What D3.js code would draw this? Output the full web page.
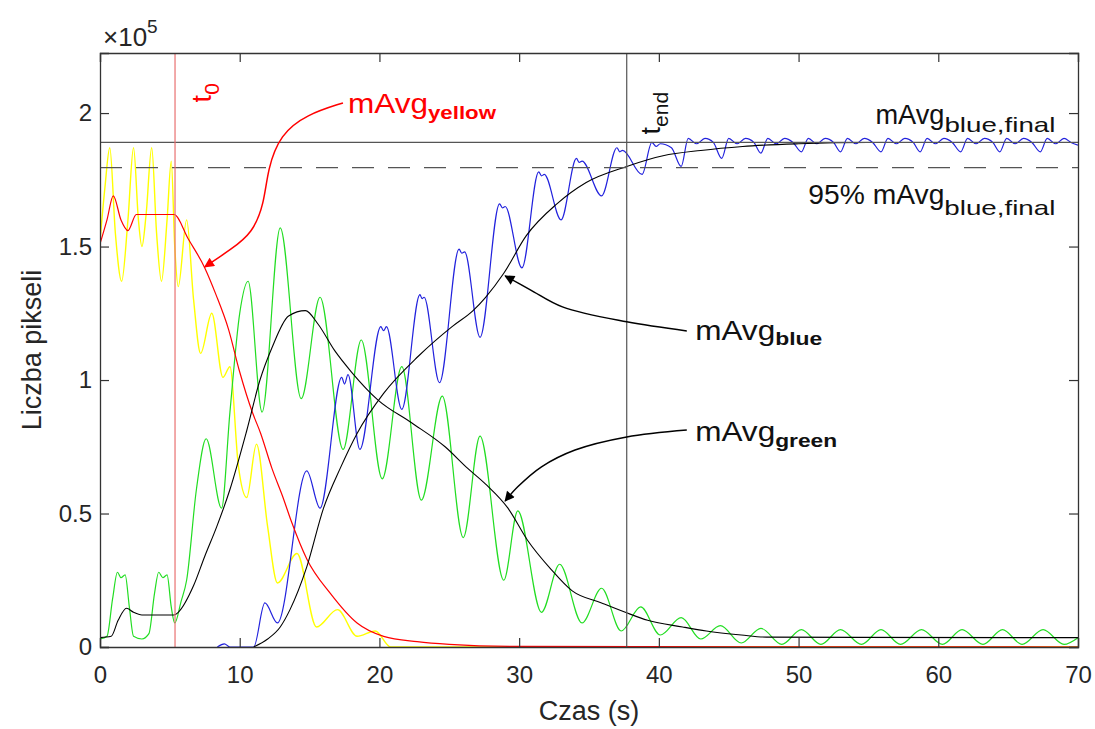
<!DOCTYPE html>
<html>
<head>
<meta charset="utf-8">
<script src="https://cdn.jsdelivr.net/npm/d3@7"></script>
<style>
  body { margin: 0; background: #fff; }
  svg { display: block; }
  text { font-family: "Liberation Sans", Arial, Helvetica, sans-serif; fill: #262626; }
</style>
</head>
<body>
<svg id="chart" width="1095" height="729"></svg>
<script>
// Axis ticks (time in s, pixel count in units of 1e5)
const timeTicks = [0, 10, 20, 30, 40, 50, 60, 70];
const countTicks = [0, 0.5, 1, 1.5, 2];
const countTickLabels = ["0", "0.5", "1", "1.5", "2"];

// Event markers
const t0 = 5.37;
const tEnd = 37.7;
const blueFinal = 1.89;
const blueFinal95 = 1.7955;

// Raw yellow pixel count [t, count/1e5]
const yellowRaw = [
  [0, 1.52], [0.35, 1.72], [0.7, 1.87], [1.1, 1.55], [1.55, 1.37], [2.0, 1.6], [2.4, 1.87],
  [2.75, 1.6], [3.0, 1.50], [3.3, 1.62], [3.7, 1.87], [4.05, 1.55], [4.4, 1.37], [4.8, 1.6],
  [5.1, 1.82], [5.35, 1.5], [5.6, 1.35], [6.2, 1.60], [6.7, 1.3], [7.2, 1.10], [8.0, 1.25],
  [8.8, 1.01], [9.3, 1.05], [9.9, 0.68], [10.5, 0.56], [11.2, 0.76], [12.0, 0.45], [12.7, 0.24],
  [14.1, 0.35], [15.5, 0.075], [17.0, 0.14], [18.4, 0.04], [19.7, 0.06], [20.8, 0.0], [70, 0.0]
];

// Raw green pixel count
const greenRaw = [
  [0, 0.03], [0.5, 0.04], [0.9, 0.18], [1.25, 0.28], [1.5, 0.26], [1.8, 0.27], [2.1, 0.15],
  [2.4, 0.04], [3.0, 0.03], [3.5, 0.05], [3.9, 0.2], [4.2, 0.28], [4.5, 0.26], [4.8, 0.27],
  [5.1, 0.15], [5.35, 0.09], [5.8, 0.17], [6.2, 0.25], [6.9, 0.59], [7.6, 0.78], [8.7, 0.52],
  [9.3, 0.88], [10.0, 1.25], [10.6, 1.37], [11.6, 0.88], [12.9, 1.57], [14.4, 0.93],
  [15.75, 1.31], [17.4, 0.74], [18.7, 1.15], [20.2, 0.63], [21.6, 1.05], [23.0, 0.55],
  [24.5, 0.94], [26.0, 0.41], [27.2, 0.79], [28.9, 0.25], [29.9, 0.51], [31.6, 0.13],
  [32.9, 0.31], [34.5, 0.09], [35.9, 0.22], [37.3, 0.06], [38.7, 0.15], [40.1, 0.045],
  [41.6, 0.11], [43.0, 0.03], [44.4, 0.08], [45.9, 0.015], [47.3, 0.07], [48.8, 0.01],
  [50.2, 0.065], [51.6, 0.01], [53.0, 0.065], [54.5, 0.01], [55.9, 0.065], [57.3, 0.01],
  [58.8, 0.065], [60.3, 0.01], [61.7, 0.065], [63.2, 0.01], [64.6, 0.065], [66.0, 0.01],
  [67.5, 0.065], [69.0, 0.01], [70, 0.035]
];

// Raw blue pixel count
const blueRaw = [
  [8.4, 0.0], [8.9, 0.012], [9.3, 0.0], [11.0, 0.0], [11.8, 0.165], [12.7, 0.09], [14.8, 0.66],
  [15.75, 0.52], [17.3, 1.01], [17.5, 0.985], [17.75, 1.02], [18.6, 0.74], [20.1, 1.2],
  [20.3, 1.185], [20.5, 1.2], [21.6, 0.89], [22.9, 1.32], [23.05, 1.305], [23.2, 1.31],
  [24.3, 0.99], [25.7, 1.49], [25.9, 1.475], [26.1, 1.48], [27.2, 1.16], [28.6, 1.66],
  [28.8, 1.645], [29.0, 1.65], [30.2, 1.42], [31.4, 1.78], [31.6, 1.765], [31.8, 1.77],
  [33.0, 1.60], [34.1, 1.83], [34.3, 1.815], [34.5, 1.82], [35.9, 1.69], [37.0, 1.87],
  [37.2, 1.855], [37.4, 1.86], [38.8, 1.77], [39.5, 1.89], [39.8, 1.875], [40.1, 1.885],
  [40.9, 1.87], [41.6, 1.80],
  [42.1, 1.905], [42.7, 1.885], [43.3, 1.905], [43.9, 1.89], [44.5, 1.83],
  [45.0, 1.905], [45.6, 1.885], [46.2, 1.905], [46.8, 1.89], [47.3, 1.85],
  [47.8, 1.905], [48.4, 1.885], [49.0, 1.905], [49.6, 1.89], [50.2, 1.855],
  [50.7, 1.905], [51.3, 1.885], [51.9, 1.905], [52.5, 1.89], [53.0, 1.855],
  [53.5, 1.905], [54.1, 1.885], [54.7, 1.905], [55.3, 1.89], [55.9, 1.855],
  [56.4, 1.905], [57.0, 1.885], [57.6, 1.905], [58.2, 1.89], [58.7, 1.855],
  [59.2, 1.905], [59.8, 1.885], [60.4, 1.905], [61.0, 1.89], [61.6, 1.855],
  [62.1, 1.905], [62.7, 1.885], [63.3, 1.905], [63.9, 1.89], [64.4, 1.855],
  [64.9, 1.905], [65.5, 1.885], [66.1, 1.905], [66.7, 1.89], [67.3, 1.855],
  [67.8, 1.905], [68.4, 1.885], [69.0, 1.905], [69.5, 1.89], [70, 1.88]
];

// Moving averages
const mAvgYellow = [
  [0, 1.51], [0.5, 1.6], [0.95, 1.69], [1.5, 1.6], [2.0, 1.56], [2.6, 1.62], [5.3, 1.62],
  [6.3, 1.53], [7.5, 1.42], [8.3, 1.32], [9.2, 1.19], [10.0, 1.03], [10.9, 0.88], [11.5, 0.8],
  [12.3, 0.67], [13.1, 0.56], [13.7, 0.47], [14.8, 0.33], [16.5, 0.20], [18.4, 0.09],
  [20.3, 0.04], [22.7, 0.02], [25.0, 0.01], [30.0, 0.002], [70, 0.0]
];

const mAvgGreen = [
  [0, 0.035], [0.8, 0.04], [1.3, 0.1], [1.9, 0.145], [2.4, 0.13], [3.0, 0.12], [5.3, 0.12],
  [5.6, 0.13], [6.7, 0.23], [7.5, 0.34], [8.35, 0.45], [9.3, 0.59], [10.5, 0.81], [11.45, 1.0],
  [12.3, 1.12], [13.5, 1.24], [14.7, 1.26], [15.6, 1.21], [16.8, 1.11], [18.0, 1.03],
  [19.9, 0.925], [22.3, 0.84], [24.7, 0.75], [26.3, 0.67], [27.6, 0.61], [29.2, 0.52],
  [30.6, 0.40], [32.3, 0.29], [33.8, 0.21], [35.9, 0.165], [37.6, 0.13], [39.2, 0.10],
  [41.7, 0.075], [43.4, 0.06], [45.9, 0.045], [47.7, 0.037], [70, 0.035]
];

const mAvgBlue = [
  [11.0, 0.0], [12.0, 0.03], [12.9, 0.075], [13.6, 0.14], [14.8, 0.30], [16.0, 0.52],
  [17.2, 0.67], [18.4, 0.80], [20.3, 0.95], [22.8, 1.09], [25.2, 1.2], [26.7, 1.26],
  [27.6, 1.31], [28.9, 1.40], [30.5, 1.54], [32.7, 1.66], [34.8, 1.74], [37.7, 1.80],
  [40.3, 1.84], [43.0, 1.86], [46.0, 1.875], [50.0, 1.885], [55.0, 1.89], [70, 1.89]
];

// Annotation arrows: control points from label towards the curve, in data units
const arrowYellow = [[17.39, 2.038], [14.8, 1.995], [12.9, 1.92], [12.0, 1.79], [11.75, 1.66], [10.9, 1.55], [9.4, 1.49], [7.5, 1.424]];
const arrowBlue = [[42.0, 1.184], [37.7, 1.218], [33.1, 1.274], [30.8, 1.338], [29.0, 1.39]];
const arrowGreen = [[42.0, 0.813], [37.7, 0.787], [34.0, 0.738], [31.6, 0.675], [29.9, 0.60], [29.0, 0.547]];

const W = 1095, H = 729;
const margin = { left: 100, right: 17, top: 53, bottom: 82 };
const svg = d3.select("#chart");

const x = d3.scaleLinear().domain([0, 70]).range([margin.left, W - margin.right]);
const y = d3.scaleLinear().domain([0, 2.225]).range([H - margin.bottom, margin.top]);

const axisColor = "#333";
const line = d3.line().x(d => x(d[0])).y(d => y(d[1])).curve(d3.curveMonotoneX);

// Defs: arrow heads
const defs = svg.append("defs");
function arrowMarker(id, color) {
  defs.append("marker")
    .attr("id", id).attr("viewBox", "0 0 10 10").attr("refX", 9).attr("refY", 5)
    .attr("markerWidth", 14).attr("markerHeight", 10).attr("markerUnits", "userSpaceOnUse")
    .attr("orient", "auto")
    .append("path").attr("d", "M0,0 L10,5 L0,10 z").attr("fill", color);
}
arrowMarker("headRed", "#ff0000");
arrowMarker("headBlack", "#000");

const plot = svg.append("g");

// Clip to the axes box
defs.append("clipPath").attr("id", "box").append("rect")
  .attr("x", x(0)).attr("y", y(2.225)).attr("width", x(70) - x(0)).attr("height", y(0) - y(2.225));
const series = plot.append("g").attr("clip-path", "url(#box)");

function drawSeries(data, color, width) {
  series.append("path").datum(data)
    .attr("d", line).attr("fill", "none")
    .attr("stroke", color).attr("stroke-width", width).attr("stroke-linejoin", "round");
}

drawSeries(yellowRaw, "#ffff00", 1.4);
drawSeries(greenRaw, "#22dd22", 1.2);
drawSeries(blueRaw, "#2222dd", 1.2);
drawSeries(mAvgYellow, "#ff0000", 1.2);
drawSeries(mAvgGreen, "#000", 1.1);
drawSeries(mAvgBlue, "#000", 1.1);

// Reference levels
series.append("line")
  .attr("x1", x(0)).attr("x2", x(70)).attr("y1", y(blueFinal)).attr("y2", y(blueFinal))
  .attr("stroke", "#555").attr("stroke-width", 1.2);
series.append("line")
  .attr("x1", x(0)).attr("x2", x(70)).attr("y1", y(blueFinal95)).attr("y2", y(blueFinal95))
  .attr("stroke", "#555").attr("stroke-width", 1.2).attr("stroke-dasharray", "22,14");

// Time markers
series.append("line")
  .attr("x1", x(t0)).attr("x2", x(t0)).attr("y1", y(0)).attr("y2", y(2.225))
  .attr("stroke", "#e87070").attr("stroke-width", 1.2);
series.append("line")
  .attr("x1", x(tEnd)).attr("x2", x(tEnd)).attr("y1", y(0)).attr("y2", y(2.225))
  .attr("stroke", "#555").attr("stroke-width", 1.2);

// Axes (ticks pointing inwards, box on all sides)
const tickLen = 9;
const gx = svg.append("g").attr("transform", `translate(0,${y(0)})`)
  .call(d3.axisBottom(x).tickValues(timeTicks).tickSize(-tickLen).tickPadding(19).tickFormat(d3.format("d")));
const gxTop = svg.append("g").attr("transform", `translate(0,${y(2.225)})`)
  .call(d3.axisTop(x).tickValues(timeTicks).tickSize(-tickLen).tickFormat(""));
const gy = svg.append("g").attr("transform", `translate(${x(0)},0)`)
  .call(d3.axisLeft(y).tickValues(countTicks).tickSize(-tickLen).tickPadding(8)
    .tickFormat((d, i) => countTickLabels[i]));
const gyRight = svg.append("g").attr("transform", `translate(${x(70)},0)`)
  .call(d3.axisRight(y).tickValues(countTicks).tickSize(-tickLen).tickFormat(""));

[gx, gxTop, gy, gyRight].forEach(g => {
  g.select(".domain").attr("stroke", axisColor).attr("stroke-width", 1.3);
  g.selectAll(".tick line").attr("stroke", axisColor).attr("stroke-width", 1.2);
  g.selectAll(".tick text").attr("fill", "#262626").style("font-size", "24px")
    .style("font-family", '"Liberation Sans", Arial, sans-serif');
});
gx.selectAll(".tick text").attr("dy", "0.71em");

// Exponent label
const expo = svg.append("text").attr("x", x(0) + 3).attr("y", y(2.225) - 7).style("font-size", "26px");
expo.append("tspan").text("\u00d710");
expo.append("tspan").attr("dy", -13).style("font-size", "19px").text("5");

// Axis titles
svg.append("text").attr("x", (x(0) + x(70)) / 2).attr("y", 720)
  .attr("text-anchor", "middle").style("font-size", "27px").text("Czas (s)");
svg.append("text").attr("transform", `translate(41,${(y(0) + y(2.225)) / 2}) rotate(-90)`)
  .attr("text-anchor", "middle").style("font-size", "27px").text("Liczba pikseli");

// Label with a subscript; each part is fitted to a given width
function subLabel(px, py, main, sub, o) {
  const color = o.color || "#111";
  const a = svg.append("text").attr("x", px).attr("y", py)
    .style("font-size", o.size + "px").style("fill", color).text(main);
  if (o.mainWidth) a.attr("textLength", o.mainWidth).attr("lengthAdjust", "spacingAndGlyphs");
  const mw = o.mainWidth || a.node().getComputedTextLength();
  const b = svg.append("text").attr("x", px + mw).attr("y", py + o.subDy)
    .style("font-size", o.subSize + "px").style("font-weight", o.subWeight || "normal")
    .style("fill", color).text(sub);
  if (o.subWidth) b.attr("textLength", o.subWidth).attr("lengthAdjust", "spacingAndGlyphs");
}

function rotLabel(px, py, main, sub, o) {
  const color = o.color || "#111";
  const t = svg.append("text").attr("transform", `translate(${px},${py}) rotate(-90)`)
    .style("font-size", o.size + "px").style("fill", color);
  t.append("tspan").text(main);
  t.append("tspan").attr("dy", o.subDy).style("font-size", o.subSize + "px").text(sub);
}

subLabel(x(17.75), y(2.0), "mAvg", "yellow",
  { size: 28, mainWidth: 80, subSize: 19, subWidth: 68, subDy: 6, subWeight: "bold", color: "#ff0000" });
subLabel(x(42.6), y(1.15), "mAvg", "blue",
  { size: 28, mainWidth: 80, subSize: 19, subWidth: 47, subDy: 5, subWeight: "bold" });
subLabel(x(42.6), y(0.77), "mAvg", "green",
  { size: 28, mainWidth: 80, subSize: 19, subWidth: 62, subDy: 6, subWeight: "bold" });
subLabel(x(55.5), y(1.96), "mAvg", "blue,final",
  { size: 28, mainWidth: 69, subSize: 21, subWidth: 111, subDy: 8 });
subLabel(x(50.7), y(1.66), "95% mAvg", "blue,final",
  { size: 28, mainWidth: 136, subSize: 21, subWidth: 111, subDy: 11 });
rotLabel(x(t0) + 36, y(2.04), "t", "0", { size: 27, subSize: 21, subDy: 8, color: "#ff0000" });
rotLabel(x(tEnd) + 33, y(1.92), "t", "end", { size: 27, subSize: 21, subDy: 8 });

// Arrows (smooth B-spline through the control points)
const arrowLine = d3.line().x(d => x(d[0])).y(d => y(d[1])).curve(d3.curveBasis);
const arrowLineC = d3.line().x(d => x(d[0])).y(d => y(d[1])).curve(d3.curveCatmullRom.alpha(0.5));
svg.append("path").datum(arrowYellow).attr("d", arrowLine).attr("fill", "none")
  .attr("stroke", "#ff0000").attr("stroke-width", 1.5).attr("marker-end", "url(#headRed)");
svg.append("path").datum(arrowBlue).attr("d", arrowLineC).attr("fill", "none")
  .attr("stroke", "#000").attr("stroke-width", 1.5).attr("marker-end", "url(#headBlack)");
svg.append("path").datum(arrowGreen).attr("d", arrowLineC).attr("fill", "none")
  .attr("stroke", "#000").attr("stroke-width", 1.5).attr("marker-end", "url(#headBlack)");
</script>
</body>
</html>
